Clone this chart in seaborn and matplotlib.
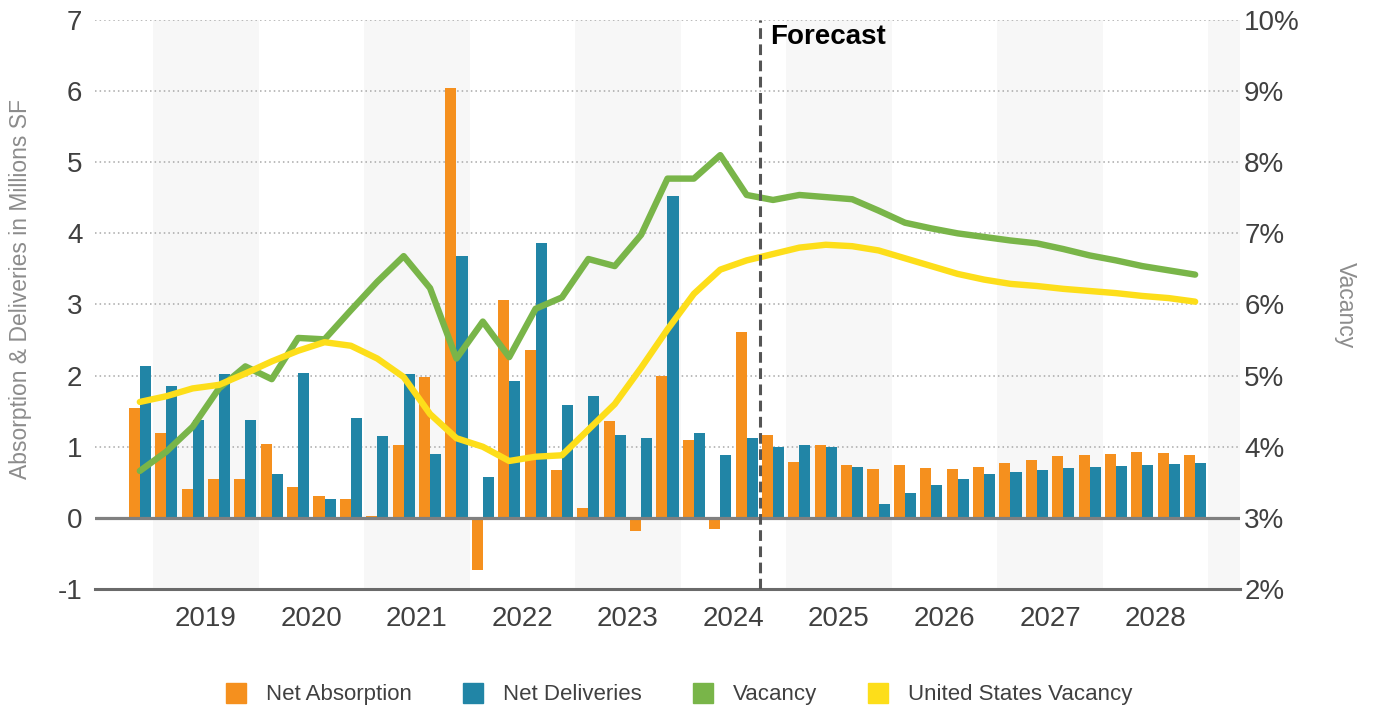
import numpy as np
import pandas as pd
import matplotlib
matplotlib.use("Agg")
import matplotlib.pyplot as plt
from matplotlib.patches import Patch
import seaborn as sns

# ---- data -----------------------------------------------------------------
quarters = [f"{y} Q{q}" for y in range(2018, 2029) for q in range(1, 5)][3:]  # 2018 Q4 .. 2028 Q4
years = ["2019", "2020", "2021", "2022", "2023", "2024", "2025", "2026", "2027", "2028"]

net_absorption = [1.55, 1.20, 0.41, 0.54, 0.54, 1.04, 0.43, 0.31, 0.26, 0.03,
                  1.03, 1.98, 6.04, -0.73, 3.07, 2.36, 0.67, 0.14, 1.36, -0.19,
                  2.00, 1.10, -0.16, 2.62, 1.16, 0.78, 1.02, 0.74, 0.69, 0.74,
                  0.70, 0.69, 0.72, 0.77, 0.82, 0.87, 0.88, 0.90, 0.92, 0.91, 0.89]
net_deliveries = [2.13, 1.86, 1.37, 2.02, 1.37, 0.62, 2.03, 0.26, 1.41, 1.15,
                  2.02, 0.90, 3.68, 0.57, 1.93, 3.87, 1.58, 1.72, 1.16, 1.13,
                  4.52, 1.20, 0.88, 1.12, 1.00, 1.02, 1.00, 0.71, 0.20, 0.35,
                  0.46, 0.54, 0.61, 0.64, 0.68, 0.70, 0.72, 0.73, 0.75, 0.76, 0.77]
vacancy = [3.66, 3.93, 4.28, 4.82, 5.13, 4.95, 5.53, 5.51, 5.92, 6.32,
           6.68, 6.23, 5.24, 5.76, 5.26, 5.94, 6.10, 6.64, 6.54, 6.98,
           7.77, 7.77, 8.10, 7.54, 7.47, 7.54, 7.51, 7.48, 7.32, 7.15,
           7.07, 7.00, 6.95, 6.90, 6.86, 6.78, 6.69, 6.62, 6.54, 6.48, 6.42]
us_vacancy = [4.63, 4.71, 4.82, 4.87, 5.03, 5.20, 5.35, 5.47, 5.42, 5.24,
              4.98, 4.46, 4.12, 4.00, 3.80, 3.86, 3.88, 4.24, 4.60, 5.11,
              5.65, 6.15, 6.49, 6.62, 6.71, 6.80, 6.84, 6.82, 6.76, 6.65,
              6.54, 6.43, 6.35, 6.29, 6.26, 6.22, 6.19, 6.16, 6.12, 6.09, 6.04]
forecast_start = "2024 Q4"

# ---- style ----------------------------------------------------------------
ORANGE = "#F5901E"
BLUE = "#2185A6"
GREEN = "#79B549"
YELLOW = "#FDDE1A"
TXT = "#404040"
GREY_LABEL = "#8C8C8C"
AXIS = "#6A6A6A"

sns.set_style("white")
plt.rcParams["font.family"] = ["Liberation Sans", "DejaVu Sans"]

W, H = 1373, 711
fig = plt.figure(figsize=(W / 100, H / 100), dpi=100)
ax = fig.add_axes([95 / W, 1 - 589 / H, 1145 / W, 569 / H])

n = len(quarters)
xi = np.arange(n)

# alternating year shading
for k in range(0, 12, 2):
    lo = 0.5 + 4 * k
    ax.axvspan(lo, lo + 4, color="#F7F7F7", zorder=0, lw=0)

# bars
bars = pd.DataFrame({
    "quarter": quarters * 2,
    "value": net_absorption + net_deliveries,
    "series": ["Net Absorption"] * n + ["Net Deliveries"] * n,
})
sns.barplot(data=bars, x="quarter", y="value", hue="series",
            palette=[ORANGE, BLUE], width=0.84, saturation=1,
            errorbar=None, legend=False, linewidth=0, ax=ax, zorder=2)

ax.set_ylim(-1, 7)
ax.set_xlim(-1.7, 41.7)
ax.set_yticks(range(-1, 8))
ax.set_yticklabels([str(v) for v in range(-1, 8)])
ax.set_xlabel("")
ax.set_ylabel("")

# gridlines and zero line
for v in range(1, 8):
    ax.axhline(v, color="#A8A8A8", lw=1.1, ls=(0, (1, 2)), zorder=0.5)
ax.axhline(0, color="#808080", lw=2.3, zorder=3)

# x axis: year boundaries as major ticks, quarters as minor ticks
ax.set_xticks(np.arange(0.5, 41, 4), labels=[])
ax.set_xticks(np.arange(-1.5, 42, 1), minor=True)
ax.tick_params(axis="x", which="major", direction="inout", length=16,
               width=2.2, color=AXIS, labelbottom=False)
ax.tick_params(axis="x", which="minor", direction="in", length=6,
               width=1.3, color=AXIS)
for j, yr in enumerate(years):
    ax.text(2.5 + 4 * j, -0.053, yr, transform=ax.get_xaxis_transform(),
            ha="center", va="center", fontsize=20, color=TXT)

ax.tick_params(axis="y", length=0, pad=9, labelsize=20, labelcolor=TXT)
for s in ["left", "right", "top"]:
    ax.spines[s].set_visible(False)
ax.spines["bottom"].set_color(AXIS)
ax.spines["bottom"].set_linewidth(2.2)

# vacancy lines on the right axis
ax2 = ax.twinx()
lines = pd.DataFrame({
    "x": np.concatenate([xi, xi]),
    "rate": vacancy + us_vacancy,
    "series": ["Vacancy"] * n + ["United States Vacancy"] * n,
})
sns.lineplot(data=lines, x="x", y="rate", hue="series",
             palette={"Vacancy": GREEN, "United States Vacancy": YELLOW},
             linewidth=4.6, legend=False, ax=ax2, sort=False,
             solid_capstyle="round", solid_joinstyle="round")
ax2.set_ylim(2, 10)
ax2.set_xlim(-1.7, 41.7)
ax2.set_yticks(range(2, 11))
ax2.set_yticklabels([f"{v}%" for v in range(2, 11)])
ax2.set_ylabel("")
ax2.set_xlabel("")
ax2.tick_params(axis="y", length=0, pad=3, labelsize=20, labelcolor=TXT)
for s in ["left", "right", "top", "bottom"]:
    ax2.spines[s].set_visible(False)

# forecast divider
fx = quarters.index(forecast_start) - 0.5
ax2.axvline(fx, color="#555555", lw=2.2, ls=(0, (3.5, 1.8)), zorder=5)
ax2.text(fx + 0.4, 9.76, "Forecast", fontsize=20, fontweight="bold",
         color="black", ha="left", va="center")

# axis titles
fig.text(21 / W, 1 - 289 / H, "Absorption & Deliveries in Millions SF",
         rotation=90, ha="center", va="center", fontsize=16.5, color=GREY_LABEL)
fig.text(1345 / W, 1 - 305 / H, "Vacancy", rotation=270,
         ha="center", va="center", fontsize=16.5, color=GREY_LABEL)

# legend
handles = [Patch(color=ORANGE), Patch(color=BLUE), Patch(color=GREEN), Patch(color=YELLOW)]
labels = ["Net Absorption", "Net Deliveries", "Vacancy", "United States Vacancy"]
fig.legend(handles, labels, loc="center", bbox_to_anchor=(0.4945, 0.024),
           ncol=4, frameon=False, fontsize=16, handlelength=0.9,
           handleheight=1.0, handletextpad=0.9, columnspacing=2.3,
           labelcolor=TXT)

fig.savefig("out.png", dpi=100)
